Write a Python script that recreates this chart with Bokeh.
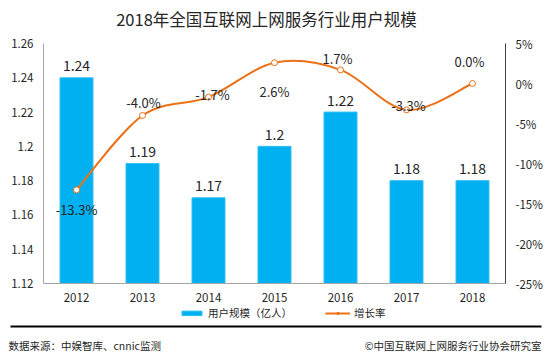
from bokeh.plotting import figure
from bokeh.models import (Range1d, LinearAxis, FixedTicker, CustomJSTickFormatter,
                          Label, Legend, LegendItem, BoxAnnotation, ColumnDataSource)
from bokeh.core.properties import value
from bokeh.embed import file_html
from bokeh.resources import INLINE

# ---- data ----
years = ["2012", "2013", "2014", "2015", "2016", "2017", "2018"]
users = [1.24, 1.19, 1.17, 1.2, 1.22, 1.18, 1.18]          # 用户规模（亿人）
growth = [-13.3, -4.0, -1.7, 2.6, 1.7, -3.3, 0.0]         # 增长率 (%)
left_ticks = [1.12, 1.14, 1.16, 1.18, 1.20, 1.22, 1.24, 1.26]
right_ticks = [-25, -20, -15, -10, -5, 0, 5]

title_text = "2018年全国互联网上网服务行业用户规模"
source_text = "数据来源：中娱智库、cnnic监测"
credit_text = "©中国互联网上网服务行业协会研究室"

# ---- style / layout (pixels) ----
FONT = "Noto Sans CJK SC"
BLUE = "#00B0F0"
ORANGE = "#EB7117"
TXT = "#262626"
g_dx = [0, 1, 4, 0, -3, 2, -3]        # growth label offsets (px)
g_dy = [20, -13, -3, 29, -11, -4, -22]
W, H = 550, 356
PL, PR, PT, PB = 43, 505, 43, 283      # plot-area box inside the canvas

# ranges chosen so that the plot area box maps to the axis extents
ncat = len(years)
ppc = (PR - PL) / ncat
x_lo, x_hi = -PL / ppc, ncat + (W - PR) / ppc
ymin, ymax = left_ticks[0], left_ticks[-1]
upp = (ymax - ymin) / (PB - PT)
rmin, rmax = right_ticks[0], right_ticks[-1]
rpp = (rmax - rmin) / (PB - PT)

p = figure(width=W, height=H, x_range=Range1d(x_lo, x_hi),
           y_range=Range1d(ymin - (H - PB) * upp, ymax + PT * upp),
           output_backend="svg", toolbar_location=None,
           min_border=0, min_border_left=0, min_border_right=0,
           min_border_top=0, min_border_bottom=0)
p.extra_y_ranges = {"pct": Range1d(rmin - (H - PB) * rpp, rmax + PT * rpp)}
p.outline_line_color = None
p.xgrid.visible = False
p.ygrid.visible = False
p.background_fill_color = "white"
p.border_fill_color = "white"

xs = [i + 0.5 for i in range(ncat)]

# bars
bar_src = ColumnDataSource(dict(x=xs, top=users, lab=["%g" % v for v in users]))
bars = p.vbar(x="x", top="top", bottom=ymin, width=0.5, source=bar_src,
              fill_color=BLUE, line_color="#33C0F3", line_width=1)
p.text(x="x", y="top", text="lab", source=bar_src, text_align="center",
       text_baseline="alphabetic", y_offset=-12, text_font=value(FONT),
       text_font_size="14px", text_color=TXT)

# smooth growth line (Catmull-Rom style Bezier through the data points)
seg = dict(x0=[], y0=[], x1=[], y1=[], cx0=[], cy0=[], cx1=[], cy1=[])
for i in range(ncat - 1):
    pm = max(i - 1, 0)
    pp = min(i + 2, ncat - 1)
    seg["x0"].append(xs[i]); seg["y0"].append(growth[i])
    seg["x1"].append(xs[i + 1]); seg["y1"].append(growth[i + 1])
    seg["cx0"].append(xs[i] + (xs[i + 1] - xs[pm]) / 6)
    seg["cy0"].append(growth[i] + (growth[i + 1] - growth[pm]) / 6)
    seg["cx1"].append(xs[i + 1] - (xs[pp] - xs[i]) / 6)
    seg["cy1"].append(growth[i + 1] - (growth[pp] - growth[i]) / 6)
p.bezier(source=ColumnDataSource(seg), x0="x0", y0="y0", x1="x1", y1="y1",
         cx0="cx0", cy0="cy0", cx1="cx1", cy1="cy1", y_range_name="pct",
         line_color=ORANGE, line_width=2)
p.scatter(x=xs, y=growth, y_range_name="pct", marker="circle", size=6,
          fill_color="white", line_color=ORANGE, line_width=1)
# legend-only renderers (a single non-drawable point)
nan = float("nan")
leg_line = p.line(x=[nan, nan], y=[nan, nan], line_color=ORANGE, line_width=2)
leg_dot = p.scatter(x=[nan], y=[nan], marker="circle", size=5,
                    fill_color=ORANGE, line_color=ORANGE)

g_src = ColumnDataSource(dict(x=xs, y=growth, lab=["%.1f%%" % v for v in growth],
                              dx=g_dx, dy=g_dy))
p.text(x="x", y="y", text="lab", source=g_src, y_range_name="pct", x_offset="dx",
       y_offset="dy", text_align="center", text_baseline="alphabetic",
       text_font=value(FONT), text_font_size="13px", text_color=TXT)

# axes
def style_axis(ax, line_color, standoff):
    ax.axis_line_color = line_color
    ax.major_tick_line_color = None
    ax.minor_tick_line_color = None
    ax.major_tick_out = 0
    ax.major_tick_in = 0
    ax.minor_tick_out = 0
    ax.major_label_standoff = standoff
    ax.major_label_text_font = FONT
    ax.major_label_text_font_size = "11.5px"
    ax.major_label_text_color = TXT

xa = p.xaxis[0]
xa.ticker = FixedTicker(ticks=xs)
xa.formatter = CustomJSTickFormatter(args=dict(years=years),
                                     code="return years[Math.floor(tick)];")
xa.fixed_location = ymin
xa.bounds = (0, ncat)
style_axis(xa, "#A6A6A6", 9)

ya = p.yaxis[0]
ya.ticker = FixedTicker(ticks=left_ticks)
ya.formatter = CustomJSTickFormatter(code="return Number(tick.toFixed(2)).toString();")
ya.fixed_location = 0
ya.bounds = (ymin, ymax)
style_axis(ya, "#A6A6A6", 10)

ra = LinearAxis(y_range_name="pct", ticker=FixedTicker(ticks=right_ticks),
                formatter=CustomJSTickFormatter(code="return Math.round(tick) + '%';"),
                fixed_location=ncat, bounds=(rmin, rmax))
style_axis(ra, "#404040", 10)
p.add_layout(ra, "right")

# legend
legend = Legend(items=[LegendItem(label="用户规模（亿人）", renderers=[bars]),
                       LegendItem(label="增长率", renderers=[leg_line, leg_dot])],
                orientation="horizontal", location=(179, 36),
                glyph_width=25, glyph_height=6, label_height=12, label_standoff=4,
                spacing=33, padding=0, margin=0, border_line_color=None,
                background_fill_alpha=0, label_text_font=FONT,
                label_text_font_size="10.5px", label_text_color=TXT)
p.add_layout(legend, "center")

# title, rule and footer (screen units: from the canvas bottom-left)
p.add_layout(Label(x=266, y=H - 18, x_units="screen", y_units="screen", text=title_text,
                   text_align="center", text_baseline="middle", text_font=FONT,
                   text_font_size="16.5px", text_font_style="normal", text_color=TXT))
p.add_layout(BoxAnnotation(left=10, right=541, top=H - 325, bottom=H - 327,
                           left_units="screen", right_units="screen",
                           top_units="screen", bottom_units="screen",
                           fill_color="#000000", fill_alpha=1, line_color=None))
p.add_layout(Label(x=8, y=H - 345, x_units="screen", y_units="screen", text=source_text,
                   text_align="left", text_baseline="middle", text_font=FONT,
                   text_font_size="10.5px", text_color=TXT))
p.add_layout(Label(x=541, y=H - 345, x_units="screen", y_units="screen", text=credit_text,
                   text_align="right", text_baseline="middle", text_font=FONT,
                   text_font_size="10.5px", text_color=TXT))

open("out.html", "w").write(file_html(p, INLINE))
